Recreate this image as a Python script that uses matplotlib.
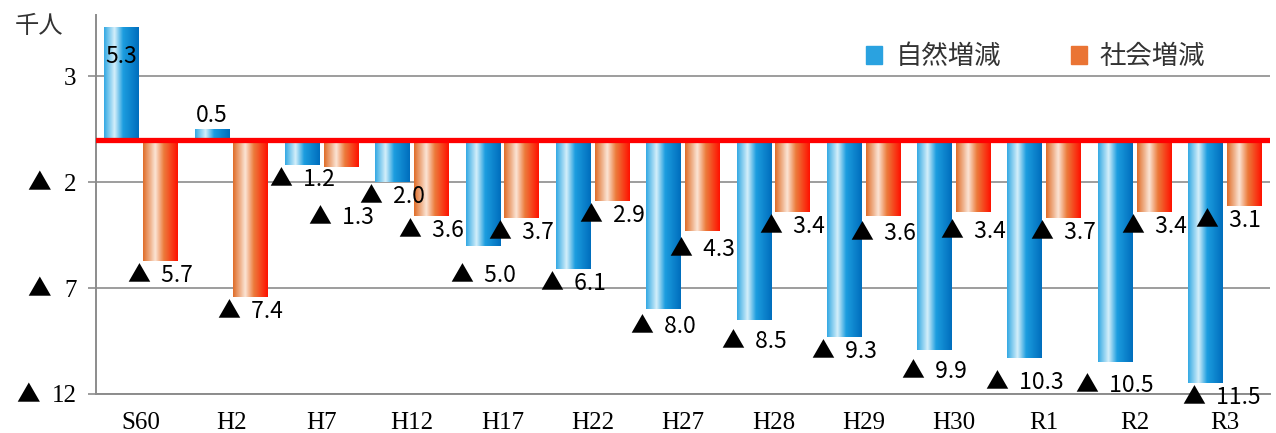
import numpy as np
import matplotlib.pyplot as plt
from matplotlib.colors import LinearSegmentedColormap
from matplotlib.patches import Rectangle

years = ['S60', 'H2', 'H7', 'H12', 'H17', 'H22', 'H27', 'H28', 'H29', 'H30', 'R1', 'R2', 'R3']
natural = [5.3, 0.5, -1.2, -2.0, -5.0, -6.1, -8.0, -8.5, -9.3, -9.9, -10.3, -10.5, -11.5]
social = [-5.7, -7.4, -1.3, -3.6, -3.7, -2.9, -4.3, -3.4, -3.6, -3.4, -3.7, -3.4, -3.1]
yticks = [3, -2, -7, -12]

# hand nudges (pixels) for labels that were dragged around in the original
nat_dy = [0, 0, 0, 0, 15, 0, 3, 7, 0, 7, 10, 9, 0]
soc_dy = [0, 0, 36, 0, 0, 0, 4, 0, 3, 5, 0, 0, 0]
nat_dx = [0] * 12 + [16]
soc_dx = [0] * 12 + [-16]

JP = ['Noto Sans CJK JP', 'DejaVu Sans']
SERIF = ['Liberation Serif', 'Noto Sans CJK JP']

fig = plt.figure(figsize=(12.76, 4.33), dpi=100)
ax = fig.add_axes([96 / 1276, 39 / 433, 1174 / 1276, 379 / 433])

x = np.arange(len(years))
w = 0.385
b1 = ax.bar(x - 0.215, natural, w, color='none', zorder=2)
b2 = ax.bar(x + 0.215, social, w, color='none', zorder=2)

blue = LinearSegmentedColormap.from_list('blue', [(0, '#35aae4'), (0.3, '#d4effa'), (0.55, '#1c9ddf'), (1, '#006ebd')])
orange = LinearSegmentedColormap.from_list('orange', [(0, '#e06e2a'), (0.35, '#fbe4d4'), (0.6, '#ec7b3b'), (1, '#ff1200')])
grad = np.linspace(0, 1, 64).reshape(1, -1)


def paint(bars, cmap):
    for r in bars:
        x0, y0 = r.get_x(), r.get_y()
        ax.imshow(grad, cmap=cmap, aspect='auto', interpolation='bilinear', zorder=2,
                  extent=[x0, x0 + r.get_width(), y0, y0 + r.get_height()])


paint(b1, blue)
paint(b2, orange)

ax.set_xlim(-0.5, 12.5)
ax.set_ylim(-12, 5.9)
ax.axhline(0, color='#ff0000', lw=3.8, zorder=3)

ax.set_yticks(yticks)
ax.set_yticklabels([str(abs(t)) for t in yticks], family=SERIF, fontsize=18)
ax.set_xticks(x)
ax.set_xticklabels(years, family=SERIF, fontsize=18)
ax.tick_params(axis='y', length=6, width=1.2, color='#8c8c8c', pad=8)
ax.tick_params(axis='x', length=0, pad=13)
ax.yaxis.grid(True, color='#8c8c8c', lw=1.2)
ax.set_axisbelow(True)
for s in ['top', 'right']:
    ax.spines[s].set_visible(False)
for s in ['left', 'bottom']:
    ax.spines[s].set_color('#8c8c8c')
    ax.spines[s].set_linewidth(1.4)

# big triangles in front of the negative tick numbers
for t in yticks:
    if t < 0:
        ax.annotate('▲', (0, t), xycoords=('axes fraction', 'data'),
                    xytext=(-(20 + 11 * len(str(abs(t))) + 14), -2), textcoords='offset pixels',
                    ha='right', va='center', family=JP, fontsize=17)


def lab(v):
    return f'{v:.1f}' if v >= 0 else f'▲  {abs(v):.1f}'


for bars, vals, dys, dxs in [(b1, natural, nat_dy, nat_dx), (b2, social, soc_dy, soc_dx)]:
    for r, v, dy, dx in zip(bars, vals, dys, dxs):
        cx = r.get_x() + r.get_width() / 2
        if v >= 4:
            off, va = -17, 'top'
        elif v >= 0:
            off, va = 2, 'bottom'
        else:
            off, va = -3 - dy, 'top'
        ax.annotate(lab(v), (cx, v), xytext=(dx, off), textcoords='offset pixels',
                    ha='center', va=va, family=JP, fontsize=16.5, color='black', zorder=4)

fig.text(39 / 1276, 1 - 26 / 433, '千人', family=JP, fontsize=17.5, color='#333333', ha='center', va='center')

handles = [Rectangle((0, 0), 1, 1, color='#2aa2e0'), Rectangle((0, 0), 1, 1, color='#ea7434')]
leg = ax.legend(handles, ['自然増減', '社会増減'], loc='center left', bbox_to_anchor=(0.645, 0.89),
                ncol=2, frameon=False, handlelength=0.6, handleheight=0.7, handletextpad=0.5,
                columnspacing=2.65, borderpad=0, prop={'family': JP, 'size': 19})
for t in leg.get_texts():
    t.set_color('#333333')

fig.savefig('out.png', dpi=100)
